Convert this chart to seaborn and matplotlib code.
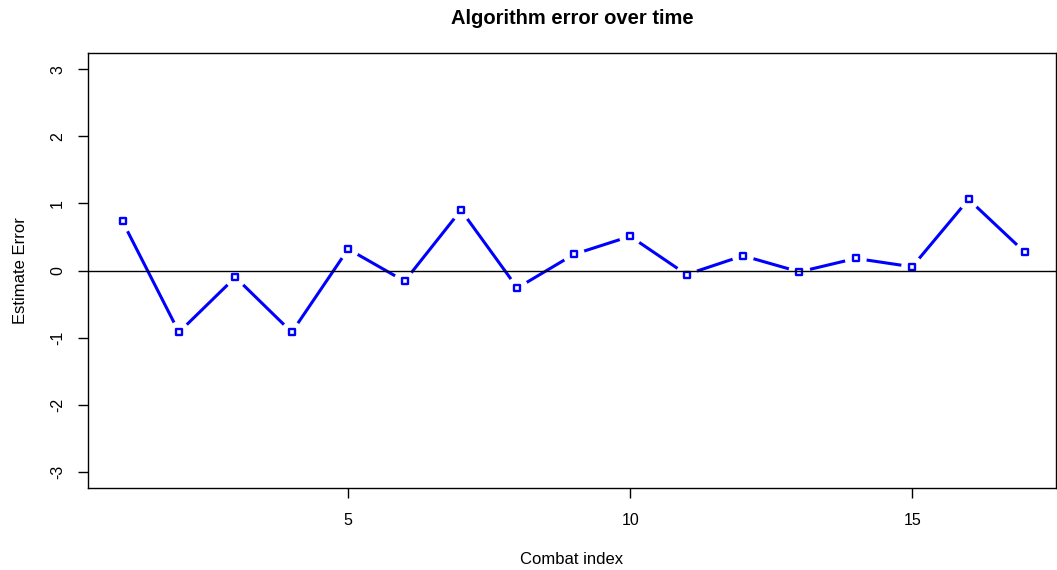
import pandas as pd
import matplotlib
matplotlib.use("Agg")
import matplotlib.pyplot as plt
import seaborn as sns

# combat index vs estimate error
combat = list(range(1, 18))
error = [0.73, -0.92, -0.10, -0.92, 0.32, -0.16, 0.90, -0.26, 0.24,
         0.51, -0.06, 0.22, -0.02, 0.18, 0.055, 1.06, 0.27]
y_ticks = [-3, -2, -1, 0, 1, 2, 3]
x_ticks = [5, 10, 15]

df = pd.DataFrame({"combat": combat, "error": error})

sns.set_style("ticks")
plt.rcParams["font.family"] = ["Liberation Sans", "DejaVu Sans"]
plt.rcParams["text.color"] = "black"
plt.rcParams["axes.labelcolor"] = "black"
plt.rcParams["xtick.color"] = "black"
plt.rcParams["ytick.color"] = "black"

fig = plt.figure(figsize=(10.57, 5.7), dpi=100)
ax = fig.add_axes([88 / 1057, 1 - 488 / 570, (1056 - 88) / 1057, (488 - 53) / 570])

# line, then white blobs to cut gaps (R type="b"), then open squares
sns.lineplot(data=df, x="combat", y="error", color="#0000ff", lw=2.2, ax=ax, zorder=2)
sns.scatterplot(data=df, x="combat", y="error", marker="o", s=250, color="white",
                edgecolor="none", ax=ax, zorder=3)
sns.scatterplot(data=df, x="combat", y="error", marker="s", s=24, facecolor="white",
                edgecolor="#0000ff", linewidth=1.7, ax=ax, zorder=4)
ax.axhline(0, color="black", lw=1, zorder=5)

ax.set_xlim(0.387, 17.55)
ax.set_ylim(-3.24, 3.24)
ax.set_xticks(x_ticks)
ax.set_yticks(y_ticks)
ax.set_yticklabels([str(v) for v in y_ticks], rotation=90, va="center")
ax.tick_params(axis="both", length=7, width=1, labelsize=11.5)
ax.tick_params(axis="x", pad=11)
ax.tick_params(axis="y", pad=9.5)
for s in ax.spines.values():
    s.set_visible(True)
    s.set_linewidth(1)
    s.set_color("black")

ax.set_xlabel("Combat index", fontsize=12, labelpad=17)
ax.set_ylabel("Estimate Error", fontsize=12, labelpad=16)
ax.set_title("Algorithm error over time", fontsize=14.5, fontweight="bold", pad=21)

fig.savefig("out.png", dpi=100)
